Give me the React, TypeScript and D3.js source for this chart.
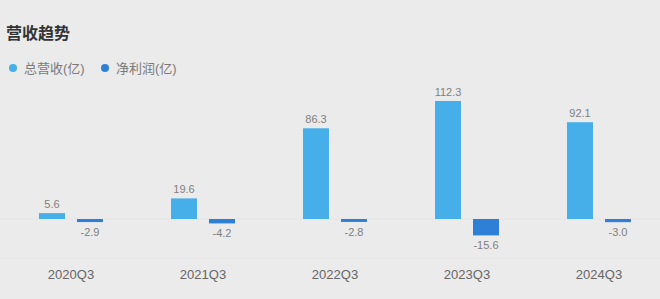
import React from "react";
import * as d3 from "d3";

const categories = ["2020Q3", "2021Q3", "2022Q3", "2023Q3", "2024Q3"];
const revenue = [5.6, 19.6, 86.3, 112.3, 92.1];
const netProfit = [-2.9, -4.2, -2.8, -15.6, -3.0];
const seriesNames = ["总营收(亿)", "净利润(亿)"];

const W = 660;
const H = 299;
const REV_COLOR = "#46aee9";
const NET_COLOR = "#2e7fd6";
const FONT = "'Liberation Sans', 'Noto Sans CJK SC', sans-serif";

export default function App() {
  const x = d3.scaleBand<string>().domain(categories).range([5, 665]);
  const y = d3.scaleLinear().domain([0, 100]).range([219, 113.9]);
  const inner = d3.scaleBand<string>().domain(["rev", "net"]).range([34, 98]).paddingInner(12 / 38);
  const bw = inner.bandwidth();

  return (
    <svg
      width={W}
      height={H}
      style={{ position: "absolute", left: 0, top: 0, background: "#ebebeb", fontFamily: FONT }}
    >
      <rect x={0} y={0} width={W} height={H} fill="#ebebeb" />
      <text x={6} y={39} fontSize={16} fontWeight="bold" fill="#333">
        营收趋势
      </text>
      {/* legend */}
      {seriesNames.map((name, i) => {
        const lx = i === 0 ? 13 : 105;
        return (
          <g key={name}>
            <circle cx={lx} cy={68} r={4} fill={i === 0 ? REV_COLOR : NET_COLOR} />
            <text x={lx + 11} y={72.5} fontSize={13} fill="#7a7a7a">
              {name}
            </text>
          </g>
        );
      })}
      {/* faint grid lines */}
      {[219, 258].map((gy) => (
        <line key={gy} x1={0} x2={W} y1={gy} y2={gy} stroke="#e4e4e4" strokeWidth={1} />
      ))}
      {categories.map((c, i) => {
        const bx = x(c)!;
        const r = revenue[i];
        const n = netProfit[i];
        const rx = bx + inner("rev")!;
        const nx = bx + inner("net")!;
        return (
          <g key={c}>
            <rect x={rx} y={y(r)} width={bw} height={y(0) - y(r)} fill={REV_COLOR} />
            <text x={rx + bw / 2} y={y(r) - 5} textAnchor="middle" fontSize={11} fill="#808080">
              {r.toFixed(1)}
            </text>
            <rect x={nx} y={y(0)} width={bw} height={y(n) - y(0)} fill={NET_COLOR} />
            <text x={nx + bw / 2} y={y(n) + 14} textAnchor="middle" fontSize={11} fill="#808080">
              {n.toFixed(1)}
            </text>
            <text x={bx + x.bandwidth() / 2} y={279} textAnchor="middle" fontSize={13} fill="#666">
              {c}
            </text>
          </g>
        );
      })}
    </svg>
  );
}
